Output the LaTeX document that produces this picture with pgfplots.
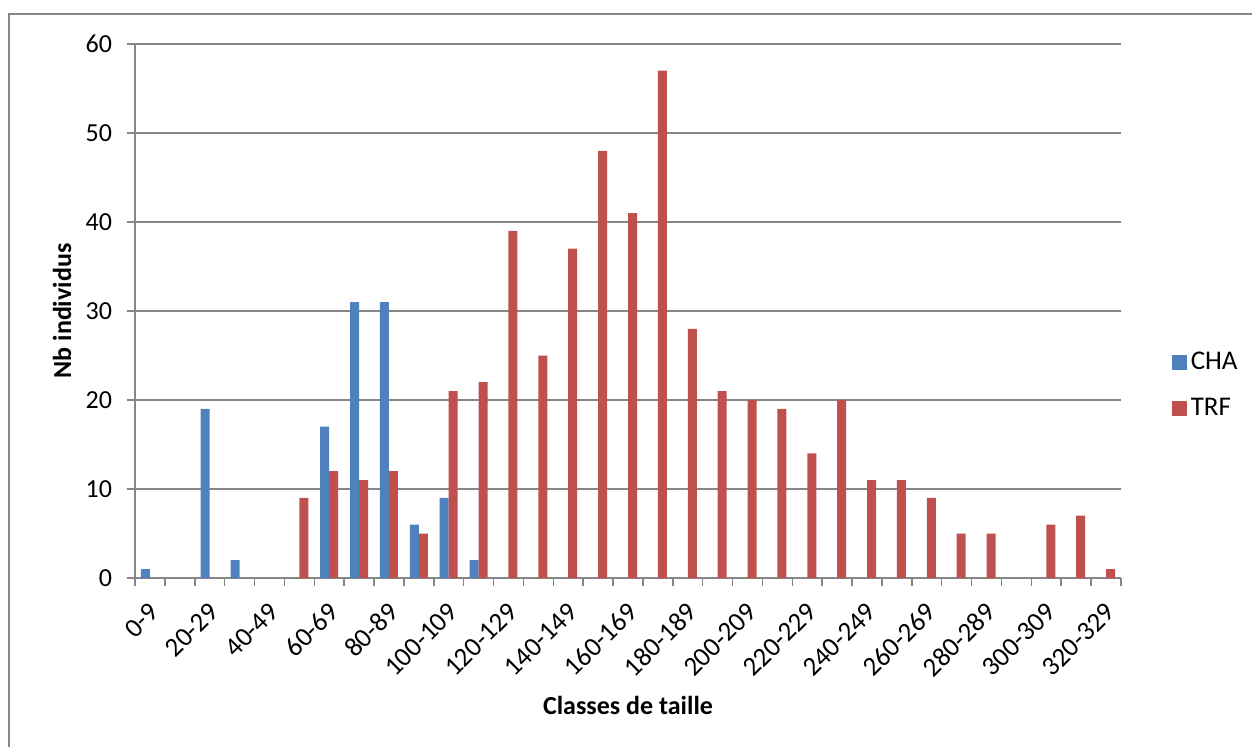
\documentclass[border=0pt]{standalone}
\usepackage{pgfplots}
\pgfplotsset{compat=1.18}
\usepackage{fontspec}
\setmainfont{Carlito}
\definecolor{cha}{HTML}{4F81BD}
\definecolor{trf}{HTML}{C0504D}
\definecolor{gridc}{HTML}{868686}
\begin{document}
\begin{tikzpicture}
\path[use as bounding box] (0,0) rectangle (626pt,-373.5pt);
\draw[gridc, line width=1pt] (4.5pt,-373.5pt) -- (4.5pt,-7.2pt) -- (626pt,-7.2pt);
\begin{axis}[
  at={(67.5pt,-289pt)}, anchor=south west,
  scale only axis, width=493pt, height=267pt,
  xmin=-0.5, xmax=32.5, ymin=0, ymax=60,
  /pgf/number format/assume math mode=true,
  ybar, bar width=4.5pt,
  ytick={0,10,...,60},
  ymajorgrids, major grid style={gridc, line width=0.75pt},
  xtick={-0.5,0.5,...,32.5}, xticklabels={},
  extra x ticks={0,2,...,32},
  extra x tick labels={0-9,20-29,40-49,60-69,80-89,100-109,120-129,140-149,160-169,180-189,200-209,220-229,240-249,260-269,280-289,300-309,320-329},
  extra x tick style={major tick length=0pt, grid=none},
  tick align=outside, major tick length=4pt,
  axis x line*=bottom, axis y line*=left,
  axis line style={gridc, line width=0.75pt, -},
  tick style={gridc, line width=0.75pt},
  xticklabel shift=14pt,
  xticklabel style={xshift=3pt, rotate=45, anchor=east, font=\fontsize{13.5}{15}\selectfont, inner sep=1pt},
  yticklabel style={font=\fontsize{13}{15}\selectfont, xshift=-4pt},
  xlabel={\textbf{Classes de taille}},
  ylabel={\textbf{Nb individus}},
  x label style={at={(axis description cs:0.5,0)}, anchor=center, yshift=-63.5pt, font=\fontsize{13}{15}\selectfont},
  y label style={at={(axis description cs:0,0.5)}, anchor=center, yshift=36.5pt, font=\fontsize{13}{15}\selectfont},
  legend style={draw=none, fill=none, at={(1.045,0.361)}, anchor=west, row sep=9pt, font=\fontsize{13.5}{15}\selectfont},
  legend cell align=left,
]
\addplot[fill=cha, draw=none, bar shift=-2.25pt,
  legend image code/.code={\fill[cha] (0pt,-3.75pt) rectangle (7.5pt,3.75pt);}]
  coordinates {(0,1) (2,19) (3,2) (6,17) (7,31) (8,31) (9,6) (10,9) (11,2)};
\addlegendentry{CHA}
\addplot[fill=trf, draw=none, bar shift=2.25pt,
  legend image code/.code={\fill[trf] (0pt,-3.75pt) rectangle (7.5pt,3.75pt);}]
  coordinates {(5,9) (6,12) (7,11) (8,12) (9,5) (10,21) (11,22) (12,39) (13,25) (14,37) (15,48) (16,41) (17,57) (18,28) (19,21) (20,20) (21,19) (22,14) (23,20) (24,11) (25,11) (26,9) (27,5) (28,5) (30,6) (31,7) (32,1)};
\addlegendentry{TRF}
\end{axis}
\end{tikzpicture}
\end{document}
